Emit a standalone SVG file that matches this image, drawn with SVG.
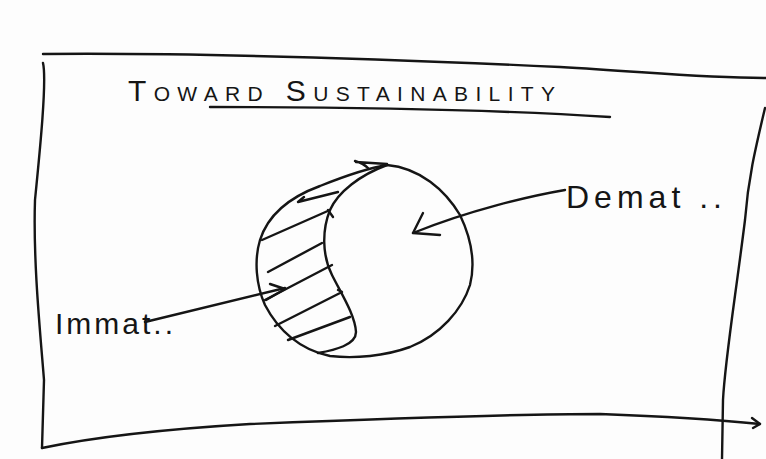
<svg xmlns="http://www.w3.org/2000/svg" width="766" height="459" viewBox="0 0 766 459">
<style>
.ink{fill:none;stroke:#151515;stroke-width:2.4;stroke-linecap:round;stroke-linejoin:round}
.hand{font-family:"Liberation Sans","DejaVu Sans",sans-serif;fill:#151515}
</style>
<rect width="766" height="459" fill="#fdfdfd"/>
<g id="frame" class="ink">
<path d="M43,54 C150,53 300,55 560,67 C650,72 700,78 766,78"/>
<path d="M43,63 C47,80 40,150 35,200 C33,260 40,330 44,380 L42,448"/>
<path d="M42,448 C80,440 150,430 250,424 C400,418 550,414 600,414 C680,417 720,420 760,424"/>
<path d="M752,418 L760,424 L753,428"/>
<path d="M765,108 C755,150 748,180 745,220 C735,300 725,360 723,400 L722,459"/>
</g>
<g id="title">
<text class="hand" x="128" y="101" font-size="30" font-variant="small-caps" textLength="427" lengthAdjust="spacing">Toward Sustainability</text>
<path class="ink" d="M210,107 C350,107 500,110 610,117"/>
</g>
<g id="sphere" class="ink">
<path d="M387,165 C420,168 445,190 460,215 C472,240 475,265 470,285 C462,310 440,335 410,347 C385,356 355,359 330,356 C300,350 278,330 265,305 C256,285 254,260 260,240 C268,215 290,197 320,186 C345,176 368,168 387,165 Z"/>
<path d="M387,165 C360,175 338,192 330,210 C322,230 322,255 332,275 C342,295 355,315 356,332 C356,345 335,350 318,353"/>
<path d="M262,240 L330,210 M328,210 L333,217"/>
<path d="M268,272 L322,243"/>
<path d="M265,300 L332,265"/>
<path d="M275,326 L342,292 M338,290 L342,292"/>
<path d="M288,340 L350,317"/>
<path d="M298,202 L338,192 M298,202 L304,197"/>
<path d="M355,161 C362,163 366,166 368,168 M356,162 L387,164"/>
</g>
<g id="demat">
<text class="hand" x="566" y="208" font-size="32" textLength="156" lengthAdjust="spacing">Demat ..</text>
</g>
<g id="immat">
<text class="hand" x="55" y="334" font-size="30" textLength="118" lengthAdjust="spacing">Immat..</text>
</g>
<g id="connectors" class="ink">
<path d="M145,322 L285,288"/>
<path d="M270,284 L285,289 L266,300"/>
<path d="M565,190 C530,196 470,210 413,233"/>
<path d="M423,213 L413,233 L440,235"/>
</g>
</svg>
